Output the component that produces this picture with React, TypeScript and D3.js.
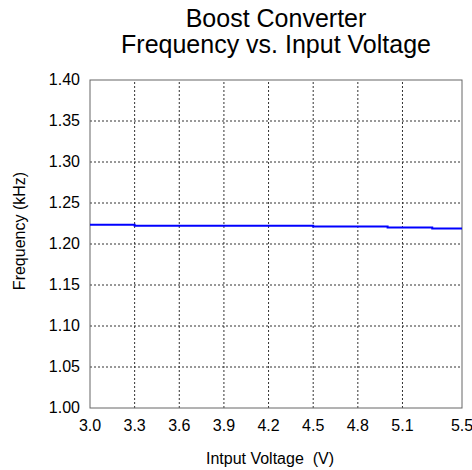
import React from "react";
import * as d3 from "d3";

const xTicks = [3.0, 3.3, 3.6, 3.9, 4.2, 4.5, 4.8, 5.1, 5.5];
const yTicks = [1.0, 1.05, 1.1, 1.15, 1.2, 1.25, 1.3, 1.35, 1.4];
const voltage = [3.0, 3.3, 4.5, 5.0, 5.3, 5.5];
const frequency = [1.2236, 1.2224, 1.2212, 1.22, 1.2188, 1.2188];

const W = 472;
const H = 470;
const M = { left: 90, right: 10, top: 80, bottom: 62 };

export default function App() {
  const x = d3.scaleLinear().domain([3.0, 5.5]).range([M.left, W - M.right]);
  const y = d3.scaleLinear().domain([1.0, 1.4]).range([H - M.bottom, M.top]);
  const pts = voltage.map((v, i) => [v, frequency[i]] as [number, number]);
  const line = d3
    .line<[number, number]>()
    .x((d) => x(d[0]))
    .y((d) => y(d[1]))
    .curve(d3.curveStepAfter);
  const font = "Liberation Sans, Arial, sans-serif";
  const cx = (M.left + W - M.right) / 2;
  return (
    <svg
      width={W}
      height={H}
      style={{ position: "absolute", left: 0, top: 0, background: "#fff" }}
      fontFamily={font}
    >
      <text x={cx} y={27} textAnchor="middle" fontSize={25} fill="#000">
        Boost Converter
      </text>
      <text x={cx} y={53} textAnchor="middle" fontSize={25} fill="#000">
        Frequency vs. Input Voltage
      </text>
      {xTicks.slice(1, -1).map((t) => (
        <line
          key={"gx" + t}
          x1={x(t)}
          x2={x(t)}
          y1={y(1.0)}
          y2={y(1.4)}
          stroke="#333"
          strokeWidth={1}
          strokeDasharray="2,2"
        />
      ))}
      {yTicks.slice(1, -1).map((t) => (
        <line
          key={"gy" + t}
          x1={x(3.0)}
          x2={x(5.5)}
          y1={y(t)}
          y2={y(t)}
          stroke="#333"
          strokeWidth={1}
          strokeDasharray="2,2"
        />
      ))}
      <rect
        x={x(3.0)}
        y={y(1.4)}
        width={x(5.5) - x(3.0)}
        height={y(1.0) - y(1.4)}
        fill="none"
        stroke="#666"
        strokeWidth={1}
      />
      <path d={line(pts) || ""} fill="none" stroke="#0000ff" strokeWidth={2} />
      {yTicks.map((t) => (
        <text
          key={"ly" + t}
          x={M.left - 10}
          y={y(t) + 5}
          textAnchor="end"
          fontSize={16}
          fill="#000"
        >
          {t.toFixed(2)}
        </text>
      ))}
      {xTicks.map((t) => (
        <text
          key={"lx" + t}
          x={x(t)}
          y={431}
          textAnchor="middle"
          fontSize={16}
          fill="#000"
        >
          {t.toFixed(1)}
        </text>
      ))}
      <text
        x={270}
        y={464}
        textAnchor="middle"
        fontSize={16}
        fill="#000"
        style={{ whiteSpace: "pre" }}
      >
        {"Intput Voltage  (V)"}
      </text>
      <text
        transform="translate(25, 231) rotate(-90)"
        textAnchor="middle"
        fontSize={16}
        fill="#000"
      >
        Frequency (kHz)
      </text>
    </svg>
  );
}
